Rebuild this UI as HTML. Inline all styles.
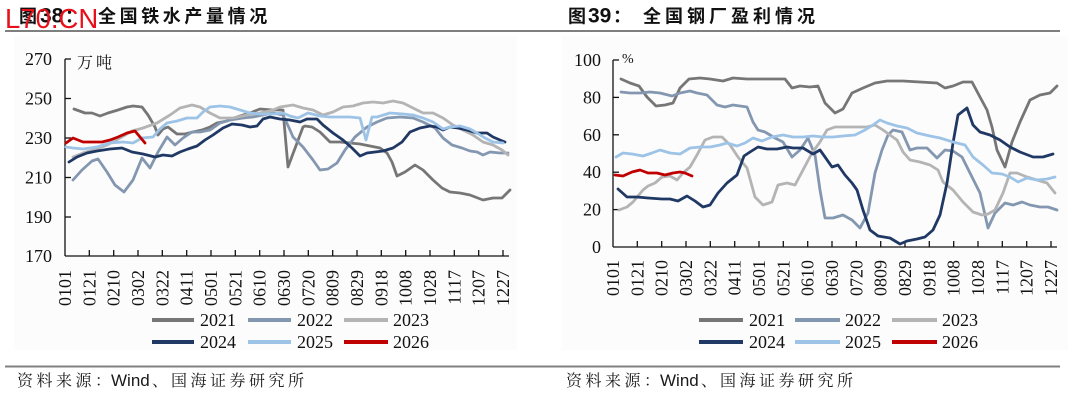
<!DOCTYPE html>
<html>
<head>
<meta charset="utf-8">
<style>
html,body{margin:0;padding:0;background:#fff;}
svg{display:block;}
.ax{font-family:"Liberation Serif",serif;font-size:18px;fill:#111;}
.cjkt{font-family:"Liberation Sans","Noto Sans CJK SC",sans-serif;font-size:18px;font-weight:bold;fill:#111;}
.num{font-family:"Liberation Sans",sans-serif;font-size:21px;font-weight:bold;fill:#111;}
.ft{font-family:"Liberation Serif","Noto Serif CJK SC",serif;font-size:16px;fill:#1a1a1a;}
.ftw{font-family:"Liberation Sans",sans-serif;font-size:17px;fill:#1a1a1a;}
.unit{font-family:"Liberation Serif","Noto Serif CJK SC",serif;font-size:16px;fill:#111;}
.s{fill:none;stroke-width:2.8;stroke-linejoin:round;stroke-linecap:round;}
</style>
</head>
<body>
<svg width="1080" height="401" viewBox="0 0 1080 401" xmlns="http://www.w3.org/2000/svg">
<!-- faint plot backgrounds -->
<rect x="14" y="36" width="503" height="314" fill="#fcfcfc"/>
<rect x="562" y="36" width="506" height="314" fill="#fcfcfc"/>

<!-- Titles -->
<text class="cjkt" x="19" y="22.5">图</text>
<text class="num" x="40" y="22.5">38</text>
<text class="cjkt" x="65" y="22.5">：</text>
<text class="cjkt" y="22.5" x="98 119.6 141.2 162.8 184.4 206 227.6 249.2">全国铁水产量情况</text>

<text class="cjkt" x="568" y="22.5">图</text>
<text class="num" x="588" y="22.5">39</text>
<text class="cjkt" x="613" y="22.5">：</text>
<text class="cjkt" y="22.5" x="643 665 687 709 731 753 775 797">全国钢厂盈利情况</text>

<line x1="5" y1="31" x2="1060" y2="31" stroke="#333" stroke-width="1.2"/>

<!-- watermark -->
<text x="5" y="28" font-family="Liberation Sans,sans-serif" font-size="27.5" fill="#e8101a">L70.CN</text>

<!-- ================= LEFT CHART ================= -->
<g class="ax" text-anchor="end">
<text x="52" y="65">270</text>
<text x="52" y="104.5">250</text>
<text x="52" y="144">230</text>
<text x="52" y="183.5">210</text>
<text x="52" y="223">190</text>
<text x="52" y="262">170</text>
</g>
<text class="unit" x="77" y="68">万</text>
<text class="unit" x="96" y="68">吨</text>

<g stroke="#111" stroke-width="1.3">
<line x1="65" y1="59" x2="65" y2="256"/>
<line x1="65" y1="256" x2="509" y2="256"/>
<line x1="65" y1="59" x2="71" y2="59"/>
<line x1="65" y1="98.5" x2="71" y2="98.5"/>
<line x1="65" y1="138" x2="71" y2="138"/>
<line x1="65" y1="177.5" x2="71" y2="177.5"/>
<line x1="65" y1="217" x2="71" y2="217"/>
<line x1="89.3" y1="250" x2="89.3" y2="256"/>
<line x1="113.7" y1="250" x2="113.7" y2="256"/>
<line x1="138" y1="250" x2="138" y2="256"/>
<line x1="162.3" y1="250" x2="162.3" y2="256"/>
<line x1="186.7" y1="250" x2="186.7" y2="256"/>
<line x1="211" y1="250" x2="211" y2="256"/>
<line x1="235.3" y1="250" x2="235.3" y2="256"/>
<line x1="259.7" y1="250" x2="259.7" y2="256"/>
<line x1="284" y1="250" x2="284" y2="256"/>
<line x1="308.3" y1="250" x2="308.3" y2="256"/>
<line x1="332.7" y1="250" x2="332.7" y2="256"/>
<line x1="357" y1="250" x2="357" y2="256"/>
<line x1="381.3" y1="250" x2="381.3" y2="256"/>
<line x1="405.7" y1="250" x2="405.7" y2="256"/>
<line x1="430" y1="250" x2="430" y2="256"/>
<line x1="454.3" y1="250" x2="454.3" y2="256"/>
<line x1="478.7" y1="250" x2="478.7" y2="256"/>
<line x1="503" y1="250" x2="503" y2="256"/>
</g>

<g class="ax" text-anchor="end">
<text transform="translate(71,270) rotate(-90)">0101</text>
<text transform="translate(95.3,270) rotate(-90)">0121</text>
<text transform="translate(119.7,270) rotate(-90)">0210</text>
<text transform="translate(144,270) rotate(-90)">0302</text>
<text transform="translate(168.3,270) rotate(-90)">0322</text>
<text transform="translate(192.7,270) rotate(-90)">0411</text>
<text transform="translate(217,270) rotate(-90)">0501</text>
<text transform="translate(241.3,270) rotate(-90)">0521</text>
<text transform="translate(265.7,270) rotate(-90)">0610</text>
<text transform="translate(290,270) rotate(-90)">0630</text>
<text transform="translate(314.3,270) rotate(-90)">0720</text>
<text transform="translate(338.7,270) rotate(-90)">0809</text>
<text transform="translate(363,270) rotate(-90)">0829</text>
<text transform="translate(387.3,270) rotate(-90)">0918</text>
<text transform="translate(411.7,270) rotate(-90)">1008</text>
<text transform="translate(436,270) rotate(-90)">1028</text>
<text transform="translate(460.3,270) rotate(-90)">1117</text>
<text transform="translate(484.7,270) rotate(-90)">1207</text>
<text transform="translate(509,270) rotate(-90)">1227</text>
</g>

<!-- left series -->
<polyline class="s" stroke="#767676" points="74,109 85,113 92,113 100,116 108,113 118,110 127,107 133,106 142,107 148,115 155,127 158,135 163,129 168,127 177,134 185,134 193,132 202,130 210,127 217,123 227,121 237,117 250,113 260,109 273,110 283,110 288,167 303,127 305,126 312,127 320,132 330,142 340,142 350,143 360,144 370,146 380,148 387,153 392,162 397,176 405,172 415,165 423,170 433,180 442,188 450,192 460,193 470,195 483,200 493,198 502,198 510,190"/>
<polyline class="s" stroke="#8497b0" points="73,180 82,170 92,161 98,159 107,172 115,185 124,192 133,180 142,158 150,168 158,152 167,137 175,145 183,138 192,132 200,132 210,130 220,123 230,120 243,118 253,117 263,115 273,113 283,115 290,130 293,137 303,147 313,160 320,170 328,169 337,163 345,150 355,137 367,127 377,122 387,118 400,117 413,118 423,122 435,128 443,138 452,145 462,148 470,151 477,152 483,155 490,152 500,153 508,153"/>
<polyline class="s" stroke="#b4b4b4" points="73,157 83,153 93,150 107,145 120,138 132,131 143,128 157,123 170,115 180,108 192,105 200,107 210,113 220,118 233,118 247,115 260,113 273,110 280,107 293,105 303,108 313,110 323,115 333,112 343,107 353,106 363,103 373,102 383,103 393,101 403,103 413,108 423,113 433,113 443,118 453,125 463,130 473,135 483,142 493,145 502,150 508,155"/>
<polyline class="s" stroke="#203864" points="69,162 77,157 87,153 97,151 110,149 122,148 132,152 143,154 155,157 163,155 172,156 180,152 188,149 197,146 205,140 213,135 223,128 232,124 242,125 250,127 257,126 263,119 270,117 280,119 290,120 300,122 307,119 317,119 323,125 333,133 343,140 352,148 360,156 367,153 375,152 383,151 393,148 402,142 410,132 420,128 430,126 437,127 443,130 450,127 458,128 467,130 477,133 487,133 493,137 500,140 505,142"/>
<polyline class="s" stroke="#9dc3e6" points="66,147 73,148 83,149 97,147 110,143 123,142 133,143 142,138 153,137 160,129 167,123 177,121 187,118 197,118 203,112 210,107 220,106 230,107 240,110 250,113 260,114 273,114 283,113 290,116 298,118 308,113 320,116 330,117 340,117 350,117 360,118 366,140 372,117 377,117 390,113 403,114 413,115 423,118 433,122 443,129 450,127 460,126 470,129 477,133 485,138 493,142 503,143"/>
<polyline class="s" stroke="#c00000" points="66,143 73,138 83,142 93,142 102,142 110,140 118,137 127,133 135,131 140,137 145,143"/>

<!-- left legend -->
<g stroke-width="4">
<line x1="152" y1="320" x2="194" y2="320" stroke="#767676"/>
<line x1="248" y1="320" x2="291" y2="320" stroke="#8497b0"/>
<line x1="344" y1="320" x2="388" y2="320" stroke="#b4b4b4"/>
<line x1="152" y1="342" x2="194" y2="342" stroke="#203864"/>
<line x1="248" y1="342" x2="291" y2="342" stroke="#9dc3e6"/>
<line x1="344" y1="342" x2="388" y2="342" stroke="#c00000"/>
</g>
<g class="ax">
<text x="200" y="326">2021</text>
<text x="297" y="326">2022</text>
<text x="393" y="326">2023</text>
<text x="200" y="348">2024</text>
<text x="297" y="348">2025</text>
<text x="393" y="348">2026</text>
</g>

<!-- ================= RIGHT CHART ================= -->
<g class="ax" text-anchor="end">
<text x="601" y="66">100</text>
<text x="601" y="103.4">80</text>
<text x="601" y="140.8">60</text>
<text x="601" y="178.2">40</text>
<text x="601" y="215.6">20</text>
<text x="601" y="253">0</text>
</g>
<text x="622" y="63" font-family="Liberation Serif,serif" font-size="14" fill="#111">%</text>

<g stroke="#111" stroke-width="1.3">
<line x1="613" y1="60" x2="613" y2="247"/>
<line x1="613" y1="247" x2="1057" y2="247"/>
<line x1="613" y1="60" x2="619" y2="60"/>
<line x1="613" y1="97.4" x2="619" y2="97.4"/>
<line x1="613" y1="134.8" x2="619" y2="134.8"/>
<line x1="613" y1="172.2" x2="619" y2="172.2"/>
<line x1="613" y1="209.6" x2="619" y2="209.6"/>
<line x1="637.3" y1="241" x2="637.3" y2="247"/>
<line x1="661.7" y1="241" x2="661.7" y2="247"/>
<line x1="686" y1="241" x2="686" y2="247"/>
<line x1="710.3" y1="241" x2="710.3" y2="247"/>
<line x1="734.7" y1="241" x2="734.7" y2="247"/>
<line x1="759" y1="241" x2="759" y2="247"/>
<line x1="783.3" y1="241" x2="783.3" y2="247"/>
<line x1="807.7" y1="241" x2="807.7" y2="247"/>
<line x1="832" y1="241" x2="832" y2="247"/>
<line x1="856.3" y1="241" x2="856.3" y2="247"/>
<line x1="880.7" y1="241" x2="880.7" y2="247"/>
<line x1="905" y1="241" x2="905" y2="247"/>
<line x1="929.3" y1="241" x2="929.3" y2="247"/>
<line x1="953.7" y1="241" x2="953.7" y2="247"/>
<line x1="978" y1="241" x2="978" y2="247"/>
<line x1="1002.3" y1="241" x2="1002.3" y2="247"/>
<line x1="1026.7" y1="241" x2="1026.7" y2="247"/>
<line x1="1051" y1="241" x2="1051" y2="247"/>
</g>

<g class="ax" text-anchor="end">
<text transform="translate(619,260) rotate(-90)">0101</text>
<text transform="translate(643.3,260) rotate(-90)">0121</text>
<text transform="translate(667.7,260) rotate(-90)">0210</text>
<text transform="translate(692,260) rotate(-90)">0302</text>
<text transform="translate(716.3,260) rotate(-90)">0322</text>
<text transform="translate(740.7,260) rotate(-90)">0411</text>
<text transform="translate(765,260) rotate(-90)">0501</text>
<text transform="translate(789.3,260) rotate(-90)">0521</text>
<text transform="translate(813.7,260) rotate(-90)">0610</text>
<text transform="translate(838,260) rotate(-90)">0630</text>
<text transform="translate(862.3,260) rotate(-90)">0720</text>
<text transform="translate(886.7,260) rotate(-90)">0809</text>
<text transform="translate(911,260) rotate(-90)">0829</text>
<text transform="translate(935.3,260) rotate(-90)">0918</text>
<text transform="translate(959.7,260) rotate(-90)">1008</text>
<text transform="translate(984,260) rotate(-90)">1028</text>
<text transform="translate(1008.3,260) rotate(-90)">1117</text>
<text transform="translate(1032.7,260) rotate(-90)">1207</text>
<text transform="translate(1057,260) rotate(-90)">1227</text>
</g>

<!-- right series -->
<polyline class="s" stroke="#767676" points="621,79 630,83 639,86 647,97 656,106 665,105 673,103 680,88 689,79 700,78 710,79 723,81 733,78 747,79 760,79 773,79 785,79 792,88 800,86 810,87 818,86 825,103 835,113 843,109 852,93 863,88 875,83 887,81 903,81 920,82 937,83 945,88 953,86 963,82 972,82 980,97 987,110 992,127 997,150 1005,167 1012,142 1020,122 1030,100 1040,95 1050,93 1057,86"/>
<polyline class="s" stroke="#8497b0" points="621,92 630,93 640,93 650,92 660,93 672,96 680,93 690,91 697,93 707,95 717,105 725,107 733,105 747,107 753,122 758,130 765,132 775,138 783,142 792,157 800,150 808,138 815,155 820,190 825,218 833,218 843,215 852,220 860,228 868,213 875,173 882,150 888,135 893,130 902,132 910,150 917,148 927,148 937,158 945,150 953,151 962,157 970,173 980,193 988,228 995,213 1005,203 1013,205 1022,202 1030,205 1040,207 1048,207 1057,210"/>
<polyline class="s" stroke="#b4b4b4" points="619,210 627,207 633,202 643,190 648,186 655,183 662,177 670,176 677,180 683,173 690,167 697,155 705,140 713,137 722,137 730,145 738,157 747,168 755,197 763,205 772,202 778,185 787,183 795,185 803,170 812,153 820,142 827,130 835,127 847,127 857,127 867,127 875,125 883,130 890,135 897,140 903,152 910,160 920,162 930,165 938,170 943,182 953,190 963,202 973,212 982,215 988,214 995,210 1003,193 1010,173 1017,173 1027,177 1037,180 1047,183 1055,193"/>
<polyline class="s" stroke="#203864" points="618,189 627,197 637,197 648,198 662,199 670,199 678,201 687,196 695,201 703,207 710,205 718,193 727,183 737,175 744,156 750,152 758,147 767,149 777,149 787,147 793,148 803,148 813,154 820,150 825,157 832,167 838,165 845,175 852,183 857,190 863,210 870,230 878,236 890,238 900,244 907,241 917,239 925,237 933,230 940,215 947,183 953,143 958,115 967,108 973,125 980,132 990,135 1000,140 1010,147 1020,152 1033,157 1043,157 1053,154"/>
<polyline class="s" stroke="#9dc3e6" points="616,157 623,153 632,154 643,156 652,153 660,150 670,153 680,154 690,148 700,147 710,147 720,145 727,143 737,146 745,143 753,138 762,141 772,137 783,135 793,137 803,137 813,136 823,137 833,137 843,136 855,135 865,130 873,125 880,120 887,123 897,126 907,128 917,133 930,136 940,138 953,142 965,145 973,157 983,165 992,173 1002,174 1010,177 1018,182 1027,178 1037,180 1047,179 1055,177"/>
<polyline class="s" stroke="#c00000" points="615,175 623,176 632,172 640,170 648,173 657,173 665,175 673,173 680,172 685,173 692,176"/>

<!-- right legend -->
<g stroke-width="4">
<line x1="699" y1="320" x2="743" y2="320" stroke="#767676"/>
<line x1="795" y1="320" x2="840" y2="320" stroke="#8497b0"/>
<line x1="892" y1="320" x2="937" y2="320" stroke="#b4b4b4"/>
<line x1="699" y1="342" x2="743" y2="342" stroke="#203864"/>
<line x1="795" y1="342" x2="840" y2="342" stroke="#9dc3e6"/>
<line x1="892" y1="342" x2="937" y2="342" stroke="#c00000"/>
</g>
<g class="ax">
<text x="749" y="326">2021</text>
<text x="845" y="326">2022</text>
<text x="942" y="326">2023</text>
<text x="749" y="348">2024</text>
<text x="845" y="348">2025</text>
<text x="942" y="348">2026</text>
</g>

<!-- footer -->
<line x1="5" y1="366.5" x2="1060" y2="366.5" stroke="#808080" stroke-width="2"/>
<text class="ft" y="386" x="17 36.5 56 75.5 95">资料来源：</text>
<text class="ftw" x="111" y="386">Wind</text>
<text class="ft" y="386" x="152 171 190.5 210 229.5 249 268.5 288">、国海证券研究所</text>

<text class="ft" y="386" x="566 585.5 605 624.5 644">资料来源：</text>
<text class="ftw" x="660" y="386">Wind</text>
<text class="ft" y="386" x="701 720 739.5 759 778.5 798 817.5 837">、国海证券研究所</text>
</svg>
</body>
</html>
